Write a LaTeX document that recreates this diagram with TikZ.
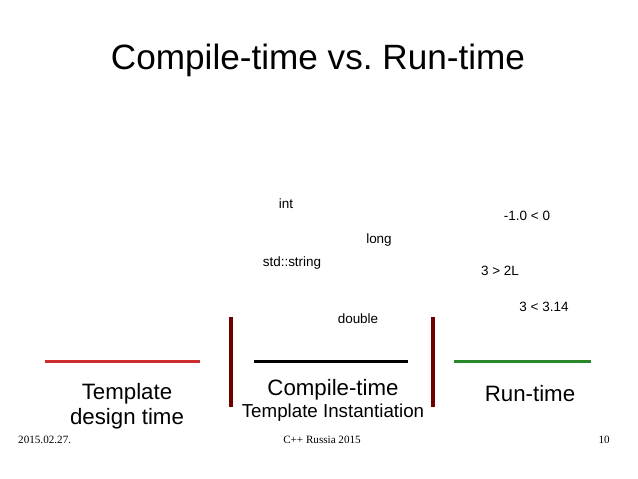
\documentclass[tikz,border=0pt]{standalone}
\usepackage{fontspec}
\setmainfont{Liberation Sans}
\newfontfamily\footfont{Liberation Serif}
\usepackage{tikz}
\usetikzlibrary{positioning}
\frenchspacing
\definecolor{designRed}{RGB}{205,45,45}
\definecolor{runGreen}{RGB}{40,135,40}
\definecolor{barRed}{RGB}{110,0,0}

\begin{document}
\begin{tikzpicture}[x=0.03cm, y=-0.03cm]
    \useasboundingbox (0,0) rectangle (638,479);
    \tikzset{
        kind/.style={font=\fontsize{11.5}{13}\selectfont, inner sep=0pt},
        phase/.style={font=\fontsize{19}{21}\selectfont, inner sep=0pt, align=center},
        foot/.style={font=\footfont\fontsize{9.5}{11}\selectfont, inner sep=0pt}
    }
    \coordinate (R1) at (45,361.5);
    \coordinate (R2) at (200,361.5);
    \coordinate (K1) at (254,361.5);
    \coordinate (K2) at (408,361.5);
    \coordinate (G1) at (454,361.5);
    \coordinate (G2) at (591,361.5);
    \coordinate (B1) at (231,317);
    \coordinate (B2) at (433,317);
    
    \node (title) at (318,60) {\fontsize{30}{34}\selectfont Compile-time vs. Run-time};
    
    \node[kind] (int) at (286,204) {int};
    \node[kind] (long) at (379,240) {long};
    \node[kind] (str) at (292,263) {std::string};
    \node[kind] (dbl) at (358,319) {double};
    \node[kind] (neg) at (527,216) {-1.0 < 0};
    \node[kind] (gt) at (500,271) {3 > 2L};
    \node[kind] (lt) at (544,307) {3 < 3.14};
    
    \draw[line width=2.8pt, designRed] (R1) -- (R2);
    \draw[line width=2.8pt, black] (K1) -- (K2);
    \draw[line width=2.8pt, runGreen] (G1) -- (G2);
    \draw[line width=4pt, barRed] (B1) -- ++(0,90);
    \draw[line width=4pt, barRed] (B2) -- ++(0,90);
    
    \node[phase] (design) at (127,406) {Template\\design time};
    \node[phase] (compile) at (333,390) {Compile-time};
    \node[font=\fontsize{16}{18}\selectfont, inner sep=0pt] (inst) at (333,413) {Template Instantiation};
    \node[phase] (run) at (530,394) {Run-time};
    
    \node[foot, anchor=west] (date) at (18,440) {2015.02.27.};
    \node[foot] (conf) at (322,440) {C++ Russia 2015};
    \node[foot, anchor=east] (page) at (610,440) {10};
\end{tikzpicture}
\end{document}
